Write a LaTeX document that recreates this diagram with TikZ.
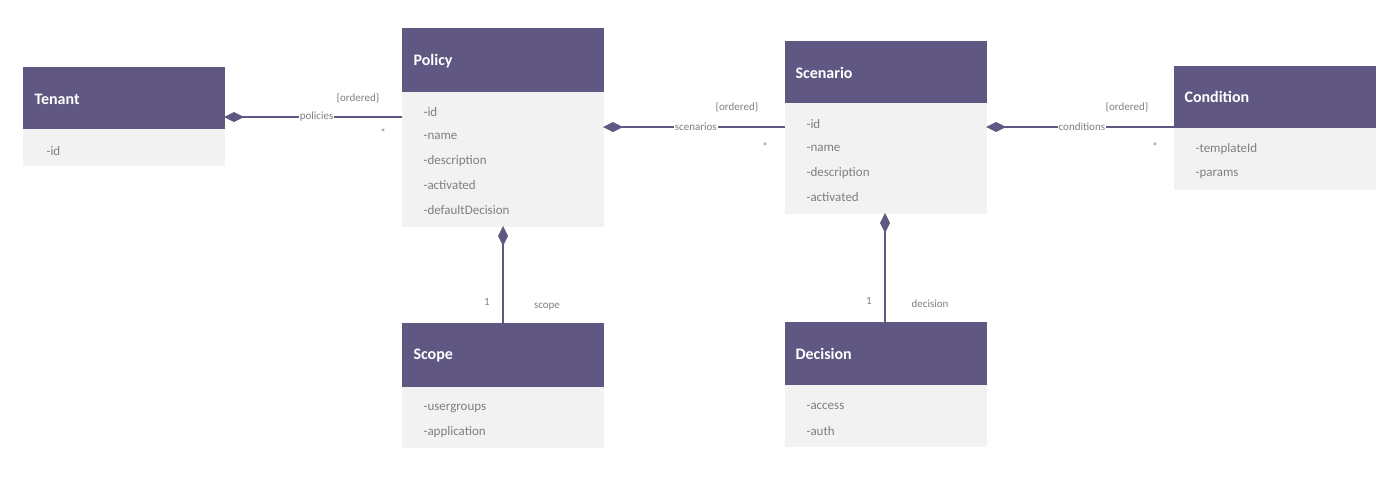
\documentclass[tikz,border=0pt]{standalone}
\usepackage{fontspec}
\setmainfont{Carlito}
\usetikzlibrary{arrows.meta}
\definecolor{hdr}{HTML}{605883}
\definecolor{bdy}{HTML}{F2F2F2}
\definecolor{txt}{HTML}{7F7F7F}
\begin{document}
\begin{tikzpicture}[x=1pt,y=-1pt,
  hd/.style={fill=hdr,draw=none},
  bd/.style={fill=bdy,draw=none},
  ht/.style={text=white,font=\fontsize{16}{18}\selectfont,anchor=west},
  attr/.style={text=txt,font=\fontsize{13}{15}\selectfont,anchor=west},
  lb/.style={text=txt,font=\fontsize{11}{13}\selectfont},
  cn/.style={draw=hdr,line width=1.5pt},
  dia/.style={-{Diamond[length=20pt,width=10pt]}}]
\useasboundingbox (0,0) rectangle (1400,480);
% Tenant
\fill[hd] (23,67) rectangle (225,129); \fill[bd] (23,129) rectangle (225,166);
\node[ht] (tenant) at (31,99) {\textbf{Tenant}};
\node[attr] (t1) at (43,151) {-id};
% Policy
\fill[hd] (402,28) rectangle (604,92); \fill[bd] (402,92) rectangle (604,227);
\node[ht] (policy) at (410,61) {\textbf{Policy}};
\foreach \t [count=\i from 0] in {-id,-name,-description,-activated,-defaultDecision}
  \node[attr] (p\i) at (420,112+24.5*\i) {\t};
% Scenario
\fill[hd] (785,41) rectangle (987,103); \fill[bd] (785,103) rectangle (987,214);
\node[ht] (scenario) at (792,73) {\textbf{Scenario}};
\foreach \t [count=\i from 0] in {-id,-name,-description,-activated}
  \node[attr] (s\i) at (803,124+24.5*\i) {\t};
% Condition
\fill[hd] (1174,66) rectangle (1376,128); \fill[bd] (1174,128) rectangle (1376,190);
\node[ht] (condition) at (1181,97) {\textbf{Condition}};
\node[attr] (c1t) at (1192,149) {-templateId};
\node[attr] (c2t) at (1192,174) {-params};
% Scope
\fill[hd] (402,323) rectangle (604,387); \fill[bd] (402,387) rectangle (604,448);
\node[ht] (scope) at (410,356) {\textbf{Scope}};
\node[attr] (sc1) at (420,408) {-usergroups};
\node[attr] (sc2) at (420,432) {-application};
% Decision
\fill[hd] (785,322) rectangle (987,385); \fill[bd] (785,385) rectangle (987,447);
\node[ht] (decision) at (792,354) {\textbf{Decision}};
\node[attr] (d1t) at (803,406) {-access};
\node[attr] (d2t) at (803,431) {-auth};
% connectors
\coordinate (a1) at (402,117); \coordinate (a2) at (224,117);
\coordinate (b1) at (785,127); \coordinate (b2) at (603,127);
\coordinate (c1) at (1174,127); \coordinate (c2) at (986,127);
\coordinate (d1) at (503,323); \coordinate (d2) at (503,226);
\coordinate (e1) at (885,322); \coordinate (e2) at (885,213);
\draw[cn,dia,fill=hdr] (a1) -- (a2) node[pos=0.48,fill=white,inner sep=1pt,lb] {policies};
\draw[cn,dia,fill=hdr] (b1) -- (b2) node[pos=0.49,fill=white,inner sep=1pt,lb] {scenarios};
\draw[cn,dia,fill=hdr] (c1) -- (c2) node[pos=0.49,fill=white,inner sep=1pt,lb] {conditions};
\draw[cn,dia,fill=hdr] (d1) -- (d2);
\draw[cn,dia,fill=hdr] (e1) -- (e2);
\node[lb] (o1) at (358,98) {\{ordered\}}; \node[lb] (m1) at (383,133) {*};
\node[lb] (o2) at (737,107) {\{ordered\}}; \node[lb] (m2) at (765,147) {*};
\node[lb] (o3) at (1127,107) {\{ordered\}}; \node[lb] (m3) at (1155,147) {*};
\node[lb] (n1) at (487,302) {1}; \node[lb] (l1) at (547,307) {scope};
\node[lb] (n2) at (869,301) {1}; \node[lb] (l2) at (930,304) {decision};
\end{tikzpicture}
\end{document}
